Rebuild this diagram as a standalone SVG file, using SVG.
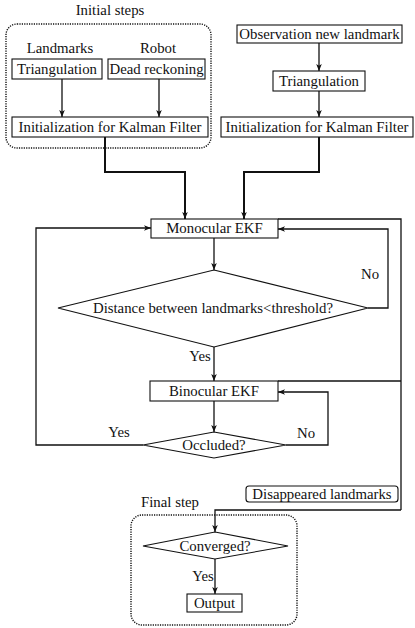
<svg xmlns="http://www.w3.org/2000/svg" width="415" height="628" viewBox="0 0 415 628">
<defs>
<style>
text{font-family:"Liberation Serif","DejaVu Serif",serif;font-size:14.8px;fill:#111;text-anchor:middle}
.box{fill:#fff;stroke:#111;stroke-width:1.1}
.grp{fill:none;stroke:#111;stroke-width:1.4;stroke-dasharray:1.2 1.2}
.ln{fill:none;stroke:#111;stroke-width:1.3}
.thk{fill:none;stroke:#111;stroke-width:2}
.arr{marker-end:url(#ah)}
</style>
<marker id="ah" viewBox="0 0 10 10" refX="10" refY="5" markerWidth="7" markerHeight="7" markerUnits="userSpaceOnUse" orient="auto">
<path d="M0,1 L10,5 L0,9 L2.5,5 Z" fill="#111"/>
</marker>
</defs>
<rect width="415" height="628" fill="#fff"/>

<g id="initial-steps">
<text x="110" y="15">Initial steps</text>
<rect class="grp" x="6" y="24" width="205" height="124" rx="11"/>
<text x="60" y="53">Landmarks</text>
<text x="158" y="53">Robot</text>
</g>
<g id="triangulation1"><rect class="box" x="12" y="59" width="90" height="20"/><text x="57" y="74">Triangulation</text></g>
<g id="dead-reckoning"><rect class="box" x="108" y="59" width="97" height="20"/><text x="156.5" y="74">Dead reckoning</text></g>
<g id="init1"><rect class="box" x="12" y="117" width="196" height="20"/><text x="110" y="132">Initialization for Kalman Filter</text></g>

<g id="observation"><rect class="box" x="237" y="25" width="165" height="18"/><text x="319.5" y="39">Observation new landmark</text></g>
<g id="triangulation2"><rect class="box" x="273" y="71" width="92" height="20"/><text x="319" y="86">Triangulation</text></g>
<g id="init2"><rect class="box" x="221" y="117" width="192" height="20"/><text x="317" y="132">Initialization for Kalman Filter</text></g>

<g id="monocular"><rect class="box" x="151" y="219" width="127" height="19"/><text x="214.5" y="233">Monocular EKF</text></g>
<g id="distance"><path class="box" d="M214,270 L368,308 L214,347 L58,308 Z"/><text x="213" y="313">Distance between landmarks&lt;threshold?</text></g>
<g id="binocular"><rect class="box" x="150" y="381" width="128" height="20"/><text x="214" y="396">Binocular EKF</text></g>
<g id="occluded"><path class="box" d="M214,432 L286,445 L214,458 L143,445 Z"/><text x="214" y="450">Occluded?</text></g>
<g id="disappeared"><rect class="box" x="246" y="486" width="152" height="16" rx="3"/><text x="322" y="499">Disappeared landmarks</text></g>

<g id="final-step">
<text x="170" y="507">Final step</text>
<rect class="grp" x="131" y="515" width="166" height="110" rx="11"/>
</g>
<g id="converged"><path class="box" d="M215,532 L288,546 L215,559 L143,546 Z"/><text x="215" y="551">Converged?</text></g>
<g id="output"><rect class="box" x="187" y="594" width="55" height="18"/><text x="214.5" y="608">Output</text></g>

<g id="connectors">
<path class="ln arr" d="M62,79 V117"/>
<path class="ln arr" d="M159,79 V117"/>
<path class="ln arr" d="M319,43 V71"/>
<path class="ln arr" d="M319,91 V117"/>
<path class="thk arr" d="M105,137 V172 H185 V219"/>
<path class="thk arr" d="M319,137 V172 H244 V219"/>
<path class="ln arr" d="M214,238 V270"/>
<path class="ln arr" d="M368,308 H388 V229 H278"/>
<path class="ln arr" d="M214,347 V381"/>
<path class="ln arr" d="M214,401 V432"/>
<path class="ln arr" d="M286,445 H328 V392 H278"/>
<path class="ln arr" d="M143,445 H36 V228 H151"/>
<path class="ln" d="M278,219 H401 V510"/>
<path class="ln" d="M278,381 H401"/>
<path class="ln arr" d="M401,510 H215 V532"/>
<path class="ln arr" d="M215,559 V594"/>
<text x="370" y="279">No</text>
<text x="200" y="361">Yes</text>
<text x="119" y="437">Yes</text>
<text x="306" y="438">No</text>
<text x="203" y="581">Yes</text>
</g>
</svg>
